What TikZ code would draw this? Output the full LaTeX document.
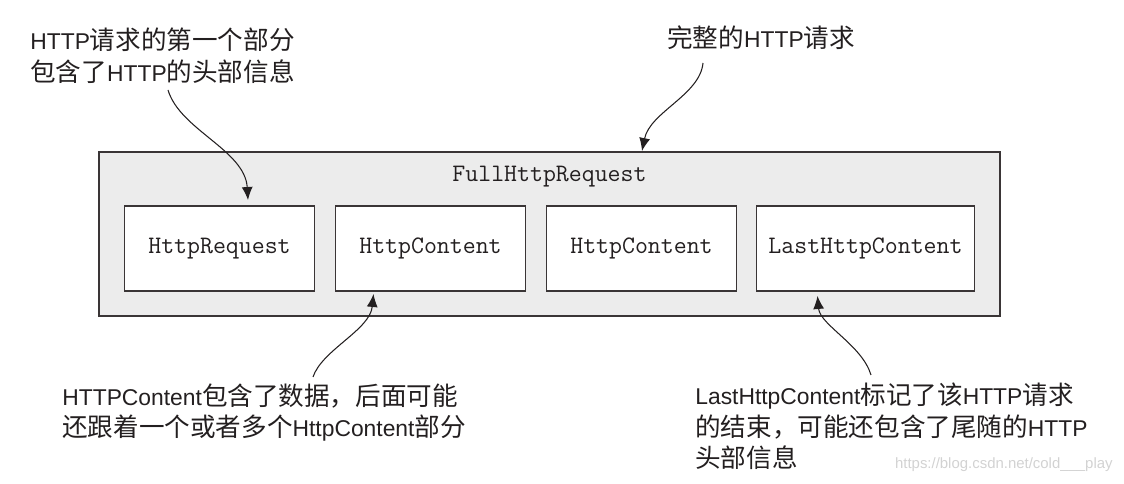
\documentclass[tikz,border=0pt]{standalone}
\usepackage{fontspec}
\usepackage{tikz}
\usetikzlibrary{arrows.meta}
\setmainfont{Liberation Sans}
\newfontfamily\cjk[Scale=1.12]{Noto Sans CJK SC}
\definecolor{linegray}{HTML}{3A3536}
\definecolor{fillgray}{HTML}{ECECEC}
\definecolor{inkgray}{HTML}{231F20}
\definecolor{markgray}{HTML}{D2D2D2}

\begin{document}
\begin{tikzpicture}[auto,node distance=4.22cm]
		\tikzstyle{part}=[draw=linegray,line width=1.1pt,fill=white,minimum width=3.8cm,minimum height=1.7cm,text=inkgray,font=\ttfamily\fontsize{14.3}{16}\selectfont]
		\tikzstyle{note}=[anchor=west,align=left,inner sep=0pt,text=inkgray,font=\fontsize{13}{18}\selectfont]
		\tikzstyle{pointer}=[-{Latex[length=2.6mm,width=2.2mm]},draw=inkgray,line width=0.6pt]
		\useasboundingbox (0,0) rectangle (22.48,9.68);
		\node[draw=linegray,line width=1.1pt,fill=fillgray,minimum width=18.02cm,minimum height=3.28cm] (full) at (10.99,5.0) {};
		\node[text=inkgray,font=\ttfamily\fontsize{14.3}{16}\selectfont] (fulllbl) at ([yshift=-0.52cm]full.north) {FullHttpRequest};
		\node[part] (req) at (4.39,4.71) {HttpRequest};
		\node[part] (c1) [right of=req] {HttpContent};
		\node[part] (c2) [right of=c1] {HttpContent};
		\node[part,minimum width=4.36cm] (last) [right of=c2,xshift=0.26cm] {LastHttpContent};
		\node[note] (n1) at (0.6,8.56) {HTTP{\cjk 请求的第一个部分}\\{\cjk 包含了}HTTP{\cjk 的头部信息}};
		\node[note] (n2) at (13.34,8.92) {{\cjk 完整的}HTTP{\cjk 请求}};
		\node[note] (n3) at (1.24,1.43) {HTTPContent{\cjk 包含了数据，后面可能}\\{\cjk 还跟着一个或者多个}HttpContent{\cjk 部分}};
		\node[note] (n4) at (13.9,1.15) {LastHttpContent{\cjk 标记了该}HTTP{\cjk 请求}\\{\cjk 的结束，可能还包含了尾随的}HTTP\\{\cjk 头部信息}};
		\node[anchor=east,inner sep=0pt,text=markgray,font=\fontsize{8.5}{10}\selectfont] (mark) at (22.26,0.38) {https://blog.csdn.net/cold\_\_\_play};
		\coordinate (s1) at (3.36,7.88);
		\coordinate (s2) at (14.06,8.42);
		\coordinate (s3) at (6.26,2.14);
		\coordinate (s4) at (17.42,2.18);
		\draw[pointer] (s1) .. controls (3.6,7.08) and (4.9,6.68) .. ([xshift=0.57cm,yshift=0.1cm]req.north);
		\draw[pointer] (s2) .. controls (14.0,7.78) and (13.0,7.44) .. ([xshift=1.85cm]full.north);
		\draw[pointer] (s3) .. controls (6.44,2.68) and (7.4,3.08) .. ([xshift=-1.14cm,yshift=-0.04cm]c1.south);
		\draw[pointer] (s4) .. controls (17.24,2.78) and (16.4,3.18) .. ([xshift=-0.96cm,yshift=-0.08cm]last.south);
		\end{tikzpicture}
\end{document}
